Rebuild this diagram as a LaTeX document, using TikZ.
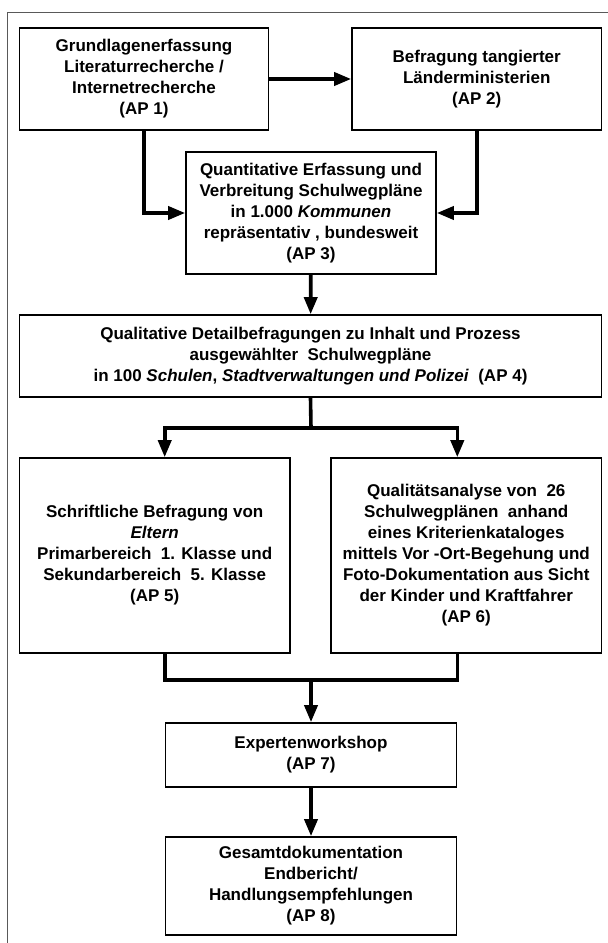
\documentclass[tikz,border=0pt]{standalone}
\usepackage{fontspec}
\setmainfont{Liberation Sans}
\usetikzlibrary{arrows.meta}
\begin{document}
\begin{tikzpicture}
[x=1pt,y=-1pt,
  boxdecorate/.style={shape=rectangle,draw,line width=1.6pt,inner sep=0pt,align=center,
    font=\fontsize{17}{21}\selectfont\bfseries},%
  arrowdecorate/.style={line width=3.6pt,-{Triangle[length=17pt,width=13pt]}},%
  linedecorate/.style={line width=3.6pt},%
  framedecorate/.style={line width=1.3pt,draw=black!65}]
\useasboundingbox (0,0) rectangle (608,943);
% frame
\draw[framedecorate] (7.5,960) |- (640,12.5);
% boxes
\node (ap1) at (144,79) [boxdecorate,minimum width=249,minimum height=102]
  {Grundlagenerfassung\\Literaturrecherche /\\Internetrecherche\\(AP 1)};
\node (ap2) at (476.75,79) [boxdecorate,minimum width=249.5,minimum height=102]
  {Befragung tangierter\\Länderministerien\\(AP 2)};
\node (ap3) at (311,213) [boxdecorate,minimum width=250,minimum height=122]
  {Quantitative Erfassung und\\Verbreitung Schulwegpläne\\in 1.000 \textit{Kommunen}\\repräsentativ , bundesweit\\(AP 3)};
\node (ap4) at (310.5,356) [boxdecorate,minimum width=582,minimum height=82]
  {Qualitative Detailbefragungen zu Inhalt und Prozess\\ausgewählter\ \ Schulwegpläne\\in 100 \textit{Schulen}, \textit{Stadtverwaltungen und Polizei}\ \ (AP 4)};
\node (ap5) at (154.7,555.5) [boxdecorate,minimum width=270.6,minimum height=195]
  {Schriftliche Befragung von\\\textit{Eltern}\\Primarbereich\ \ 1. Klasse und\\Sekundarbereich\ \ 5. Klasse\\(AP 5)};
\node (ap6) at (466.25,555.5) [boxdecorate,minimum width=270.5,minimum height=195]
  {Qualitätsanalyse von\ \ 26\\Schulwegplänen\ \ anhand\\eines Kriterienkataloges\\mittels Vor -Ort-Begehung und\\Foto-Dokumentation aus Sicht\\der Kinder und Kraftfahrer\\(AP 6)};
\node (ap7) at (311,755) [boxdecorate,minimum width=291,minimum height=64]
  {Expertenworkshop\\(AP 7)};
\node (ap8) at (311,886) [boxdecorate,minimum width=291,minimum height=98]
  {Gesamtdokumentation\\Endbericht/\\Handlungsempfehlungen\\(AP 8)};
% branch points
\coordinate (split) at (311,428);
\coordinate (merge) at (311,680);
% arrows
\path
(ap1) edge[arrowdecorate] (ap2)
(ap3) edge[arrowdecorate] (ap4)
(ap7) edge[arrowdecorate] (ap8);
\draw[arrowdecorate] (ap1.south) |- (ap3.west);
\draw[arrowdecorate] (ap2.south) |- (ap3.east);
\draw[linedecorate] (ap4.south) -- (split);
\draw[arrowdecorate] (split) -| (ap5.north -| ap7.west);
\draw[arrowdecorate] (split) -| (ap6.north -| ap7.east);
\draw[linedecorate] (ap5.south -| ap7.west) |- (merge);
\draw[linedecorate] (ap6.south -| ap7.east) |- (merge);
\draw[arrowdecorate] (merge) -- (ap7.north);
\end{tikzpicture}
\end{document}
